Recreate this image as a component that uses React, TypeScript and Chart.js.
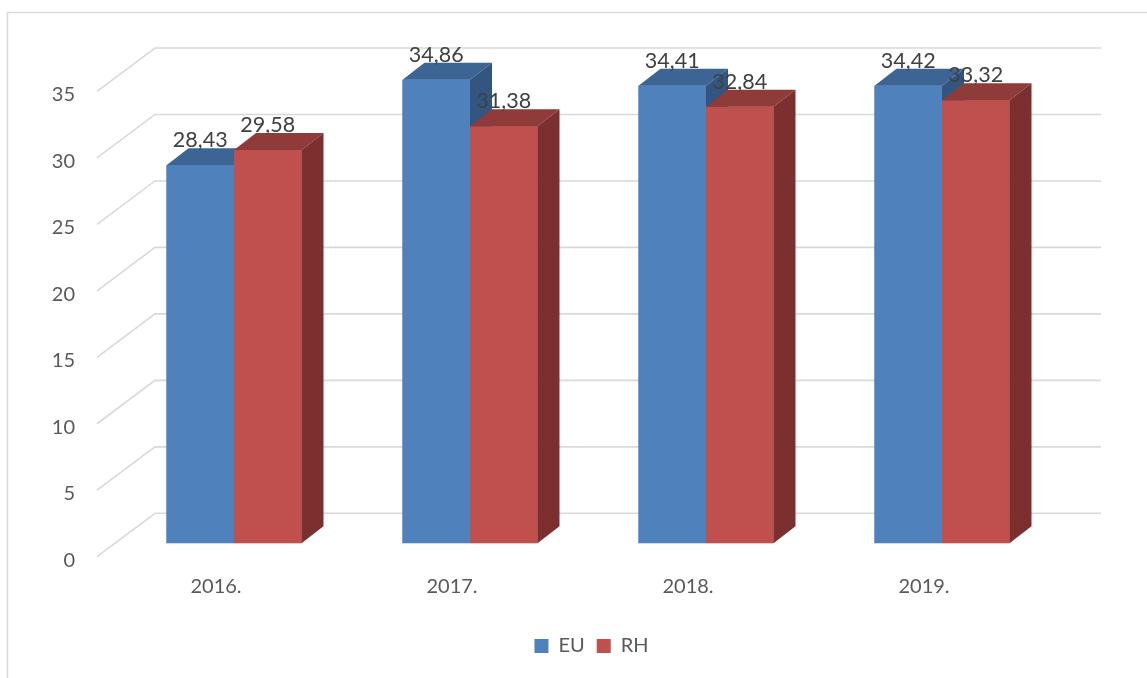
import React, { useEffect, useRef } from 'react';
import { Chart, registerables } from 'chart.js';

Chart.register(...registerables);

const categories = ['2016.', '2017.', '2018.', '2019.'];
const seriesNames = ['EU', 'RH'];
const euValues = [28.43, 34.86, 34.41, 34.42];
const rhValues = [29.58, 31.38, 32.84, 33.32];
const yMin = 0;
const yMax = 35;
const yStep = 5;

const FONT = 'Lato';
const frontColors = ['#4F81BD', '#C0504D'];
const topColors = ['#3C6494', '#8F3B39'];
const sideColors = ['#335681', '#7B302F'];

// 3D styling constants (depth offsets)
const BAR_DX = 22;
const BAR_DY = 17;
const WALL_FRONT_X = 97;
const WALL_BACK_X = 155;
const WALL_RIGHT_X = 1101;
const WALL_FRONT_DY = 13.4;
const WALL_BACK_DY = -30;

const fmt = (v: number) => v.toFixed(2).replace('.', ',');

const depthPlugin = {
  id: 'depth3d',
  beforeDraw(chart: any) {
    const ctx = chart.ctx;
    ctx.save();
    ctx.strokeStyle = '#d9d9d9';
    ctx.lineWidth = 1.5;
    ctx.strokeRect(7.5, 12.5, 2000, 2000);
    ctx.restore();
  },
  beforeDatasetsDraw(chart: any) {
    const ctx = chart.ctx;
    const ys = chart.scales.y;
    ctx.save();
    ctx.strokeStyle = '#d9d9d9';
    ctx.lineWidth = 1.6;
    ys.ticks.forEach((t: any) => {
      const p = ys.getPixelForValue(t.value);
      ctx.beginPath();
      ctx.moveTo(WALL_FRONT_X, p + WALL_FRONT_DY);
      ctx.lineTo(WALL_BACK_X, p + WALL_BACK_DY);
      ctx.lineTo(WALL_RIGHT_X, p + WALL_BACK_DY);
      ctx.stroke();
    });
    ctx.restore();
  },
  afterDatasetsDraw(chart: any) {
    const ctx = chart.ctx;
    const n = chart.data.datasets.length;
    ctx.save();
    for (let i = 0; i < n; i++) {
      const meta = chart.getDatasetMeta(i);
      meta.data.forEach((el: any) => {
        // redraw front face so later series cover earlier side faces
        el.draw(ctx, chart.chartArea);
        const { x, y, base, width } = el.getProps(['x', 'y', 'base', 'width'], true);
        const l = x - width / 2;
        const r = x + width / 2;
        ctx.fillStyle = topColors[i];
        ctx.beginPath();
        ctx.moveTo(l, y);
        ctx.lineTo(l + BAR_DX, y - BAR_DY);
        ctx.lineTo(r + BAR_DX, y - BAR_DY);
        ctx.lineTo(r, y);
        ctx.closePath();
        ctx.fill();
        ctx.fillStyle = sideColors[i];
        ctx.beginPath();
        ctx.moveTo(r, y);
        ctx.lineTo(r + BAR_DX, y - BAR_DY);
        ctx.lineTo(r + BAR_DX, base - BAR_DY);
        ctx.lineTo(r, base);
        ctx.closePath();
        ctx.fill();
      });
    }
    ctx.fillStyle = '#404040';
    ctx.font = `21.5px ${FONT}`;
    ctx.textAlign = 'center';
    ctx.textBaseline = 'alphabetic';
    chart.data.datasets.forEach((ds: any, i: number) => {
      const meta = chart.getDatasetMeta(i);
      meta.data.forEach((el: any, j: number) => {
        const { x, y } = el.getProps(['x', 'y'], true);
        ctx.fillText(fmt(ds.data[j]), x, y - 18);
      });
    });
    ctx.restore();
  },
};

export default function App() {
  const ref = useRef<HTMLCanvasElement>(null);
  useEffect(() => {
    const chart = new Chart(ref.current as HTMLCanvasElement, {
      type: 'bar',
      data: {
        labels: categories,
        datasets: [
          { label: seriesNames[0], data: euValues, backgroundColor: frontColors[0], borderWidth: 0 },
          { label: seriesNames[1], data: rhValues, backgroundColor: frontColors[1], borderWidth: 0 },
        ],
      },
      options: {
        animation: false,
        responsive: false,
        devicePixelRatio: 1,
        layout: { padding: { left: 36, right: 0, top: 78, bottom: 12 } },
        datasets: { bar: { categoryPercentage: 0.572, barPercentage: 1 } },
        scales: {
          x: {
            grid: { display: false, drawTicks: false },
            border: { display: false },
            ticks: { labelOffset: -18, padding: 31, maxRotation: 0, color: '#595959', font: { family: FONT, size: 20 } },
            afterFit: (s: any) => { s.height = 80.7; },
          },
          y: {
            min: yMin,
            max: yMax,
            grid: { display: false, drawTicks: false },
            border: { display: false },
            ticks: { stepSize: yStep, padding: 41, labelOffset: 17, color: '#595959', font: { family: FONT, size: 20 } },
            afterFit: (s: any) => { s.width = 80; },
          },
          yr: {
            type: 'linear',
            position: 'right',
            grid: { display: false, drawTicks: false },
            border: { display: false },
            ticks: { display: false },
            afterFit: (s: any) => { s.width = 87; },
          },
        },
        plugins: {
          legend: {
            position: 'bottom',
            labels: { boxWidth: 14, boxHeight: 14, padding: 12, color: '#595959', font: { family: FONT, size: 20 } },
          },
          tooltip: { enabled: false },
        },
      },
      plugins: [depthPlugin],
    } as any);
    return () => chart.destroy();
  }, []);
  return (
    <div style={{ position: 'absolute', left: 0, top: 0, width: 1147, height: 678, background: '#fff' }}>
      <canvas ref={ref} width={1147} height={678} style={{ display: 'block', width: 1147, height: 678 }} />
    </div>
  );
}
